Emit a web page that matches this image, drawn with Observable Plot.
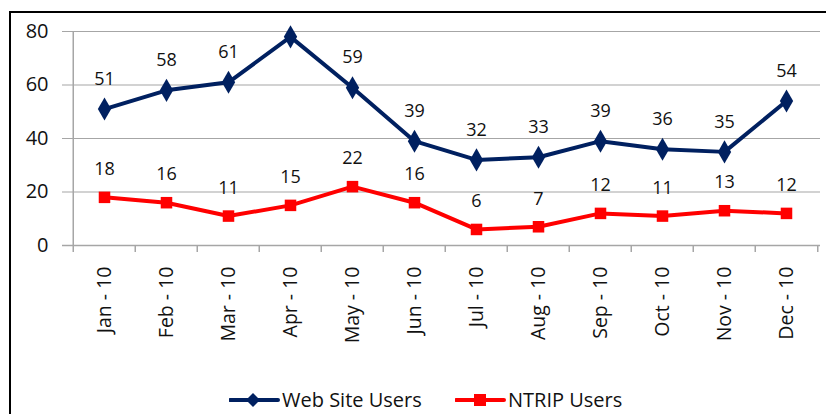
<!DOCTYPE html>
<html>
<head>
<meta charset="utf-8">
<script src="https://cdn.jsdelivr.net/npm/d3@7"></script>
<script src="https://cdn.jsdelivr.net/npm/@observablehq/plot@0.6"></script>
<style>
  html, body { margin: 0; padding: 0; background: #fff; }
  #wrap { position: relative; width: 826px; height: 414px; overflow: hidden; font-family: "Open Sans", sans-serif; }
  #border { position: absolute; left: 9px; top: 11px; width: 830px; height: 420px; border: 2px solid #000; box-sizing: border-box; }
  #chart { position: absolute; left: 0; top: 0; }
  #legend { position: absolute; top: 386px; left: 0; width: 826px; font-size: 20px; color: #111; }
  .item { position: absolute; display: flex; align-items: center; white-space: nowrap; }
</style>
</head>
<body>
<div id="wrap">
  <div id="border"></div>
  <div id="chart"></div>
  <div id="legend"></div>
</div>
<script>
const months = ["Jan - 10","Feb - 10","Mar - 10","Apr - 10","May - 10","Jun - 10","Jul - 10","Aug - 10","Sep - 10","Oct - 10","Nov - 10","Dec - 10"];
const webUsers = [51, 58, 61, 78, 59, 39, 32, 33, 39, 36, 35, 54];
const webLabels = ["51","58","61",null,"59","39","32","33","39","36","35","54"];
const ntripUsers = [18, 16, 11, 15, 22, 16, 6, 7, 12, 11, 13, 12];
const ntripLabels = ["18","16","11","15","22","16","6","7","12","11","13","12"];
const yTicks = [0, 20, 40, 60, 80];
const seriesNames = ["Web Site Users", "NTRIP Users"];

const webColor = "#002060";
const ntripColor = "#ff0000";
const gridColor = "#a6a6a6";
const textColor = "#111";

const web = months.map((m, i) => ({month: m, value: webUsers[i], label: webLabels[i]}));
const ntrip = months.map((m, i) => ({month: m, value: ntripUsers[i], label: ntripLabels[i]}));

const W = 826, H = 414, mL = 70, mR = 6;
const half = (W - mL - mR) / months.length / 2;

const chart = Plot.plot({
  width: W,
  height: H,
  marginLeft: mL,
  marginRight: mR,
  marginTop: 31,
  marginBottom: 169,
  style: {fontFamily: "'Open Sans', sans-serif", color: textColor, background: "transparent"},
  x: {type: "band", domain: months, padding: 0, label: null},
  y: {domain: [0, 80], label: null},
  marks: [
    Plot.ruleY(yTicks.filter(t => t > 0), {stroke: gridColor, strokeWidth: 1.2, insetLeft: -8}),
    Plot.ruleY([0], {stroke: gridColor, strokeWidth: 1.5, insetLeft: -8}),
    Plot.ruleX([months[0]], {x: d => d, dx: -half, y1: 0, y2: 80, stroke: gridColor, strokeWidth: 1.5}),
    Plot.ruleX(months, {x: d => d, dx: -half, y1: 0, y2: 0, insetBottom: -7, stroke: gridColor, strokeWidth: 1.5}),
    Plot.ruleX([months[months.length - 1]], {x: d => d, dx: half, y1: 0, y2: 0, insetBottom: -7, stroke: gridColor, strokeWidth: 1.5}),
    Plot.axisY({ticks: yTicks, tickSize: 0, tickPadding: 22, fontSize: 20, label: null}),
    Plot.axisX({tickRotate: -90, tickSize: 0, tickPadding: 21, fontSize: 19.5, label: null}),
    Plot.line(web, {x: "month", y: "value", stroke: webColor, strokeWidth: 4}),
    Plot.dot(web, {x: "month", y: "value", symbol: "diamond", r: 7, fill: webColor}),
    Plot.line(ntrip, {x: "month", y: "value", stroke: ntripColor, strokeWidth: 4}),
    Plot.dot(ntrip, {x: "month", y: "value", symbol: "square", r: 6.5, fill: ntripColor}),
    Plot.text(web.filter(d => d.label != null), {x: "month", y: "value", text: "label", dy: -30, fontSize: 18, fill: textColor}),
    Plot.text(ntrip.filter(d => d.label != null), {x: "month", y: "value", text: "label", dy: -28, fontSize: 18, fill: textColor})
  ]
});
document.getElementById("chart").appendChild(chart);

const legend = document.getElementById("legend");
const items = [
  {name: seriesNames[0], color: webColor, shape: "diamond", left: 229},
  {name: seriesNames[1], color: ntripColor, shape: "square", left: 455}
];
for (const it of items) {
  const div = document.createElement("div");
  div.className = "item";
  div.style.left = it.left + "px";
  const marker = it.shape === "diamond"
    ? `<path d="M24,4 L31,11 L24,18 L17,11 Z" fill="${it.color}"/>`
    : `<rect x="19" y="5" width="12" height="12" fill="${it.color}"/>`;
  div.innerHTML = `<svg width="52" height="22" style="margin-right:1px"><line x1="1" y1="11" x2="49" y2="11" stroke="${it.color}" stroke-width="4" stroke-linecap="round"/>${marker}</svg><span>${it.name}</span>`;
  legend.appendChild(div);
}
</script>
</body>
</html>
